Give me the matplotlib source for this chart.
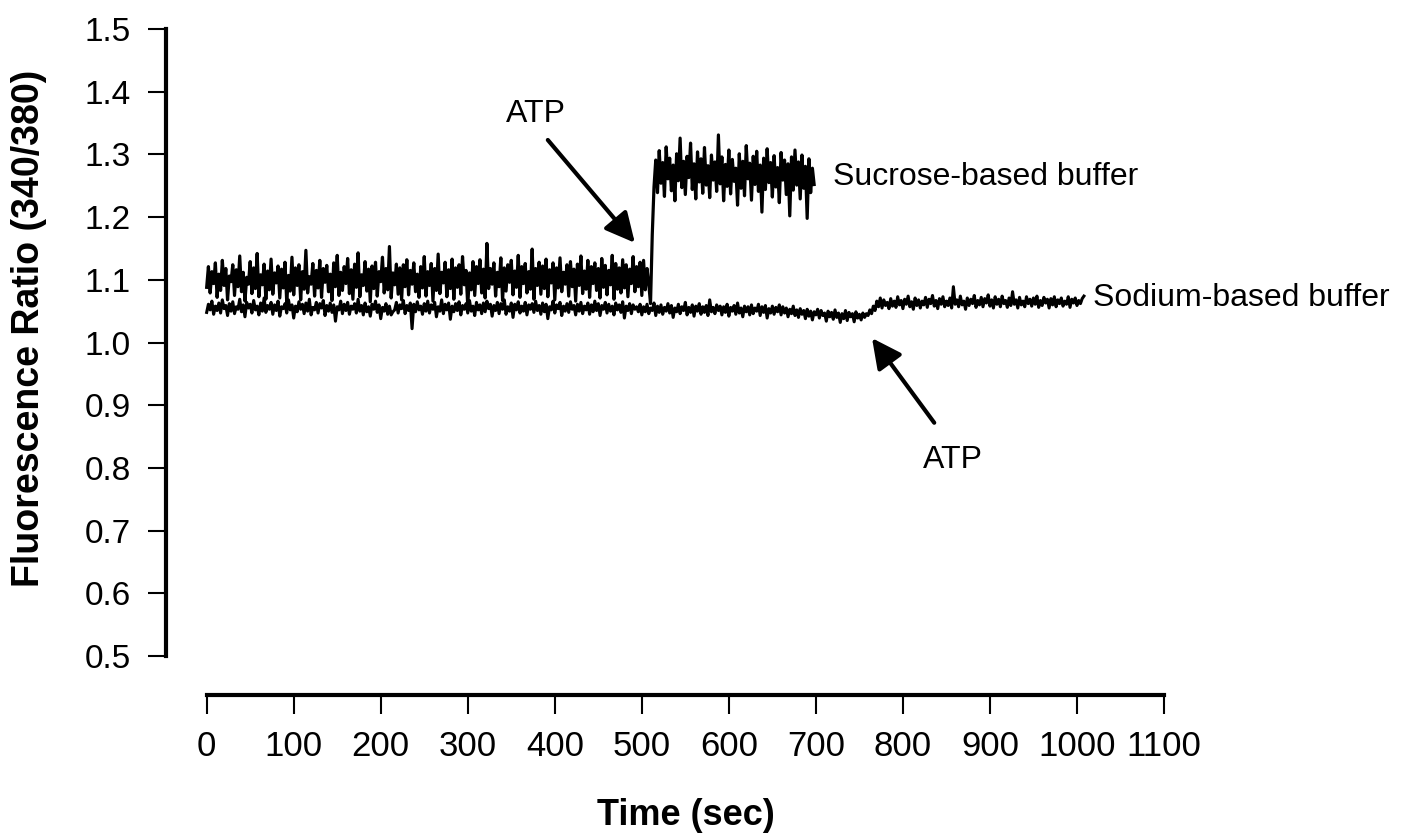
import numpy as np
import matplotlib
matplotlib.use("Agg")
import matplotlib.pyplot as plt

plt.rcParams['font.family'] = ['Liberation Sans', 'DejaVu Sans']

# Sampling interval of the recordings (sec)
dt = 2

# Fura-2 340/380 ratio, sucrose-based buffer, before ATP addition (t = 0..510 s)
sucrose_before = [
    1.088, 1.121, 1.079, 1.113, 1.094, 1.127, 1.072, 1.109, 1.083, 1.131, 1.091, 1.118, 1.068, 1.106, 1.097, 1.124,
    1.075, 1.116, 1.089, 1.138, 1.081, 1.112, 1.066, 1.104, 1.093, 1.129, 1.078, 1.119, 1.086, 1.142, 1.073, 1.108,
    1.092, 1.125, 1.069, 1.114, 1.084, 1.133, 1.077, 1.111, 1.095, 1.122, 1.071, 1.117, 1.087, 1.128, 1.064, 1.107,
    1.082, 1.136, 1.076, 1.119, 1.091, 1.124, 1.068, 1.113, 1.085, 1.147, 1.079, 1.105, 1.093, 1.126, 1.074, 1.115,
    1.087, 1.131, 1.072, 1.118, 1.096, 1.123, 1.081, 1.109, 1.067, 1.127, 1.089, 1.139, 1.075, 1.112, 1.083, 1.121,
    1.094, 1.134, 1.078, 1.116, 1.069, 1.125, 1.088, 1.143, 1.073, 1.108, 1.091, 1.129, 1.082, 1.117, 1.065, 1.122,
    1.086, 1.128, 1.074, 1.113, 1.097, 1.136, 1.079, 1.118, 1.084, 1.153, 1.071, 1.111, 1.092, 1.125, 1.077, 1.119,
    1.068, 1.124, 1.089, 1.132, 1.076, 1.115, 1.093, 1.127, 1.081, 1.109, 1.072, 1.121, 1.087, 1.137, 1.074, 1.113,
    1.091, 1.126, 1.066, 1.118, 1.083, 1.141, 1.078, 1.112, 1.095, 1.128, 1.073, 1.116, 1.086, 1.133, 1.069, 1.119,
    1.088, 1.124, 1.077, 1.137, 1.092, 1.115, 1.058, 1.111, 1.084, 1.129, 1.075, 1.121, 1.094, 1.132, 1.079, 1.117,
    1.071, 1.158, 1.086, 1.118, 1.093, 1.127, 1.074, 1.112, 1.089, 1.135, 1.067, 1.119, 1.082, 1.124, 1.096, 1.131,
    1.076, 1.114, 1.088, 1.139, 1.072, 1.121, 1.094, 1.126, 1.079, 1.113, 1.085, 1.149, 1.069, 1.118, 1.091, 1.128,
    1.077, 1.122, 1.086, 1.133, 1.073, 1.116, 1.095, 1.127, 1.068, 1.119, 1.087, 1.135, 1.081, 1.112, 1.093, 1.124,
    1.074, 1.129, 1.089, 1.117, 1.066, 1.125, 1.091, 1.138, 1.078, 1.114, 1.085, 1.131, 1.072, 1.121, 1.094, 1.127,
    1.083, 1.118, 1.071, 1.134, 1.088, 1.123, 1.076, 1.115, 1.092, 1.139, 1.069, 1.126, 1.085, 1.119, 1.079, 1.132,
    1.087, 1.124, 1.073, 1.117, 1.094, 1.137, 1.081, 1.121, 1.089, 1.128, 1.075, 1.131, 1.084, 1.118, 1.093, 1.062,
]

# Sucrose-based buffer, after ATP addition (t = 512..698 s)
sucrose_after = [
    1.172, 1.248, 1.291, 1.239, 1.306, 1.254, 1.287, 1.233, 1.312, 1.261, 1.294, 1.242, 1.283, 1.226, 1.301, 1.258,
    1.326, 1.247, 1.289, 1.236, 1.297, 1.263, 1.318, 1.244, 1.285, 1.229, 1.304, 1.256, 1.293, 1.238, 1.311, 1.251,
    1.282, 1.231, 1.299, 1.259, 1.288, 1.241, 1.331, 1.253, 1.296, 1.226, 1.284, 1.249, 1.307, 1.237, 1.292, 1.257,
    1.278, 1.219, 1.301, 1.246, 1.289, 1.234, 1.314, 1.261, 1.286, 1.227, 1.297, 1.252, 1.305, 1.241, 1.283, 1.208,
    1.294, 1.244, 1.309, 1.255, 1.287, 1.232, 1.298, 1.248, 1.279, 1.223, 1.303, 1.259, 1.291, 1.236, 1.285, 1.202,
    1.296, 1.243, 1.307, 1.251, 1.288, 1.229, 1.299, 1.246, 1.281, 1.198, 1.293, 1.239, 1.278, 1.252,
]

# Sodium-based buffer, t = 0..498 s
sodium_early = [
    1.048, 1.061, 1.052, 1.066, 1.045, 1.058, 1.051, 1.063, 1.047, 1.068, 1.054, 1.059, 1.043, 1.062, 1.050, 1.065,
    1.046, 1.057, 1.053, 1.069, 1.049, 1.060, 1.041, 1.064, 1.055, 1.061, 1.047, 1.067, 1.052, 1.058, 1.044, 1.063,
    1.050, 1.071, 1.048, 1.059, 1.053, 1.064, 1.045, 1.060, 1.051, 1.066, 1.042, 1.057, 1.054, 1.062, 1.047, 1.068,
    1.052, 1.060, 1.039, 1.058, 1.049, 1.065, 1.053, 1.061, 1.046, 1.063, 1.050, 1.069, 1.044, 1.056, 1.052, 1.064,
    1.047, 1.062, 1.055, 1.067, 1.043, 1.059, 1.050, 1.063, 1.048, 1.060, 1.034, 1.057, 1.052, 1.066, 1.046, 1.061,
    1.051, 1.064, 1.045, 1.058, 1.053, 1.062, 1.047, 1.069, 1.050, 1.059, 1.044, 1.063, 1.049, 1.057, 1.042, 1.061,
    1.053, 1.066, 1.048, 1.060, 1.038, 1.056, 1.050, 1.062, 1.045, 1.058, 1.044, 1.049, 1.052, 1.064, 1.047, 1.060,
    1.054, 1.067, 1.046, 1.059, 1.051, 1.063, 1.022, 1.061, 1.049, 1.065, 1.052, 1.058, 1.045, 1.062, 1.050, 1.066,
    1.047, 1.060, 1.053, 1.064, 1.041, 1.057, 1.050, 1.068, 1.046, 1.061, 1.052, 1.063, 1.037, 1.058, 1.049, 1.062,
    1.051, 1.065, 1.044, 1.059, 1.053, 1.062, 1.047, 1.067, 1.050, 1.058, 1.043, 1.064, 1.052, 1.060, 1.046, 1.063,
    1.049, 1.066, 1.054, 1.061, 1.042, 1.059, 1.051, 1.064, 1.046, 1.062, 1.053, 1.068, 1.045, 1.057, 1.050, 1.063,
    1.040, 1.061, 1.052, 1.065, 1.047, 1.058, 1.050, 1.064, 1.044, 1.060, 1.053, 1.062, 1.048, 1.066, 1.051, 1.059,
    1.045, 1.063, 1.049, 1.061, 1.038, 1.057, 1.052, 1.066, 1.047, 1.060, 1.054, 1.064, 1.043, 1.058, 1.050, 1.062,
    1.048, 1.065, 1.053, 1.059, 1.044, 1.061, 1.050, 1.064, 1.046, 1.058, 1.052, 1.063, 1.045, 1.060, 1.049, 1.066,
    1.051, 1.062, 1.043, 1.059, 1.053, 1.064, 1.047, 1.061, 1.050, 1.058, 1.044, 1.063, 1.052, 1.060, 1.048, 1.065,
    1.039, 1.058, 1.051, 1.062, 1.046, 1.060, 1.053, 1.057, 1.049, 1.061,
]

# Sodium-based buffer, t = 500..758 s
sodium_mid = [
    1.044, 1.057, 1.049, 1.061, 1.046, 1.055, 1.051, 1.063, 1.043, 1.058, 1.048, 1.060, 1.045, 1.056, 1.050, 1.062,
    1.047, 1.059, 1.040, 1.055, 1.049, 1.061, 1.046, 1.057, 1.051, 1.064, 1.044, 1.056, 1.048, 1.060, 1.042, 1.058,
    1.050, 1.062, 1.045, 1.057, 1.048, 1.059, 1.043, 1.068, 1.049, 1.056, 1.046, 1.060, 1.051, 1.058, 1.044, 1.057,
    1.048, 1.061, 1.042, 1.056, 1.050, 1.059, 1.045, 1.063, 1.047, 1.055, 1.041, 1.058, 1.049, 1.057, 1.044, 1.060,
    1.046, 1.055, 1.050, 1.061, 1.043, 1.057, 1.048, 1.059, 1.039, 1.054, 1.047, 1.058, 1.045, 1.056, 1.049, 1.060,
    1.044, 1.057, 1.047, 1.055, 1.041, 1.053, 1.046, 1.058, 1.043, 1.052, 1.040, 1.054, 1.045, 1.051, 1.038, 1.053,
    1.042, 1.050, 1.036, 1.049, 1.044, 1.053, 1.039, 1.051, 1.043, 1.047, 1.034, 1.050, 1.041, 1.048, 1.037, 1.052,
    1.040, 1.047, 1.032, 1.046, 1.038, 1.051, 1.035, 1.048, 1.041, 1.046, 1.033, 1.049, 1.039, 1.045, 1.036, 1.047,
    1.040, 1.046,
]

# Sodium-based buffer, t = 760..1008 s
sodium_late = [
    1.043, 1.052, 1.046, 1.058, 1.051, 1.066, 1.057, 1.071, 1.055, 1.068, 1.059, 1.064, 1.054, 1.070, 1.058, 1.066,
    1.056, 1.073, 1.060, 1.067, 1.054, 1.069, 1.061, 1.074, 1.057, 1.065, 1.053, 1.071, 1.059, 1.068, 1.055, 1.066,
    1.060, 1.072, 1.056, 1.069, 1.062, 1.075, 1.058, 1.067, 1.054, 1.070, 1.061, 1.073, 1.057, 1.066, 1.059, 1.071,
    1.055, 1.089, 1.061, 1.068, 1.057, 1.074, 1.060, 1.066, 1.053, 1.071, 1.059, 1.069, 1.062, 1.075, 1.056, 1.067,
    1.060, 1.072, 1.057, 1.070, 1.063, 1.076, 1.058, 1.068, 1.055, 1.073, 1.061, 1.069, 1.057, 1.074, 1.062, 1.067,
    1.056, 1.071, 1.059, 1.081, 1.061, 1.068, 1.055, 1.072, 1.060, 1.066, 1.057, 1.073, 1.062, 1.069, 1.058, 1.071,
    1.061, 1.074, 1.056, 1.067, 1.059, 1.072, 1.063, 1.069, 1.055, 1.070, 1.060, 1.073, 1.057, 1.068, 1.062, 1.071,
    1.058, 1.066, 1.061, 1.073, 1.056, 1.069, 1.063, 1.071, 1.059, 1.067, 1.062, 1.070, 1.074,
]

x_ticks = [0, 100, 200, 300, 400, 500, 600, 700, 800, 900, 1000, 1100]
y_ticks = [0.5, 0.6, 0.7, 0.8, 0.9, 1.0, 1.1, 1.2, 1.3, 1.4, 1.5]

sucrose = np.array(sucrose_before + sucrose_after)
t_sucrose = np.arange(len(sucrose)) * dt
sodium = np.array(sodium_early + sodium_mid + sodium_late)
t_sodium = np.arange(len(sodium)) * dt

W, H = 1405, 838
fig = plt.figure(figsize=(W / 100, H / 100), dpi=100)
ax = fig.add_axes([165.5 / W, 1 - 695 / H, (1164 - 165.5) / W, (695 - 29) / H])

ax.plot(t_sucrose, sucrose, color='black', lw=2.3)
ax.plot(t_sodium, sodium, color='black', lw=2.2)

ax.set_xlim(-47.3, 1100)
ax.set_ylim(0.4378, 1.5)

for s in ('top', 'right'):
    ax.spines[s].set_visible(False)
ax.spines['left'].set_bounds(0.5, 1.5)
ax.spines['bottom'].set_bounds(0, 1100)
ax.spines['left'].set_linewidth(3)
ax.spines['bottom'].set_linewidth(3)

ax.set_xticks(x_ticks)
ax.set_xticklabels([str(v) for v in x_ticks])
ax.set_yticks(y_ticks)
ax.set_yticklabels([f"{v:.1f}" for v in y_ticks])
ax.tick_params(axis='y', length=13, width=1.5, pad=12, labelsize=24, direction='out')
ax.tick_params(axis='x', length=14, width=1.5, pad=11, labelsize=25, direction='out')

fig.text(29 / W, 1 - 328 / H, 'Fluorescence Ratio (340/380)', rotation=90,
         ha='center', va='center', fontsize=27, fontweight='bold')
fig.text(686 / W, 1 - 815 / H, 'Time (sec)', ha='center', va='center',
         fontsize=26, fontweight='bold')

arrow_kw = dict(arrowstyle='-|>,head_length=0.9,head_width=0.45', color='black',
                lw=3, mutation_scale=20, shrinkA=0, shrinkB=0)
ax.annotate('', xy=(492, 1.159), xytext=(392, 1.323), arrowprops=arrow_kw)
ax.annotate('', xy=(764.5, 1.007), xytext=(836, 0.872), arrowprops=arrow_kw)

ax.text(378, 1.364, 'ATP', ha='center', va='center', fontsize=23)
ax.text(857.5, 0.813, 'ATP', ha='center', va='center', fontsize=23)
ax.text(720, 1.264, 'Sucrose-based buffer', ha='left', va='center', fontsize=23)
ax.text(1018.6, 1.071, 'Sodium-based buffer', ha='left', va='center', fontsize=23)

fig.savefig('out.png', dpi=100)
